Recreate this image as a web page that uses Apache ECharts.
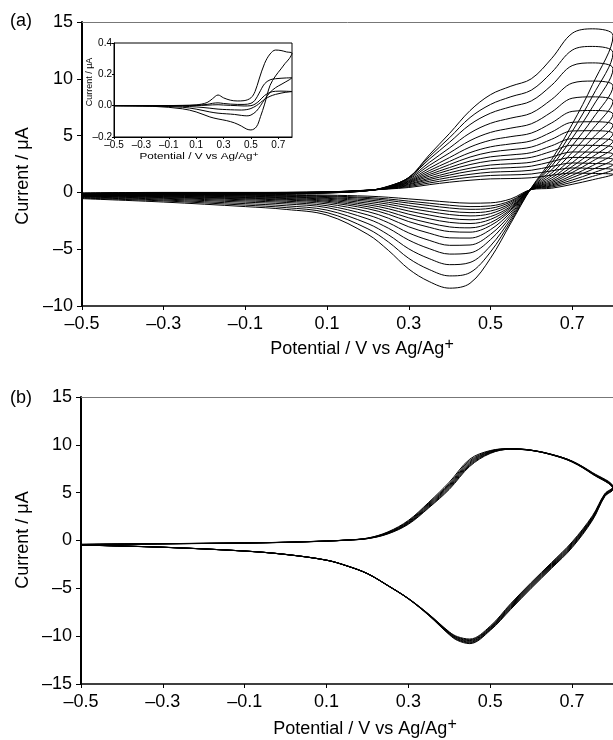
<!DOCTYPE html>
<html><head><meta charset="utf-8">
<script src="https://cdn.jsdelivr.net/npm/echarts@6/dist/echarts.min.js"></script>
<style>html,body{margin:0;padding:0;background:#fff}#c{width:613px;height:740px}</style>
</head><body><div id="c"></div>
<script>
// ---------- Panel (a): scan-rate series, potential loop (forward then reverse) ----------
const potentialA = [-0.5,-0.3,-0.1,0.1,0.2,0.25,0.3,0.35,0.4,0.45,0.5,0.55,0.6,0.65,0.7,0.75,0.8,
                    0.75,0.7,0.65,0.6,0.55,0.5,0.45,0.4,0.35,0.3,0.25,0.2,0.1,0,-0.1,-0.3,-0.5];
const scanA01 = [-0.35,-0.2,-0.15,-0.05,0.15,0.55,1.3,3.3,5.2,7.2,8.6,9.35,10.0,11.8,14.0,14.4,13.8, 9.5,6.0,2.9,0.4,-2.7,-5.8,-8.0,-8.43,-7.85,-6.75,-5.1,-3.7,-2.0,-1.5,-1.25,-0.85,-0.55];
const scanA02 = [-0.33,-0.19,-0.14,-0.04,0.15,0.53,1.31,3.13,4.82,6.59,7.74,8.42,9.0,10.57,12.52,12.85,12.29, 8.48,5.36,2.61,0.39,-2.52,-5.25,-7.06,-7.35,-6.79,-5.81,-4.36,-3.21,-1.78,-1.34,-1.12,-0.75,-0.5];
const scanA03 = [-0.31,-0.17,-0.13,-0.04,0.16,0.51,1.3,2.92,4.42,5.97,6.97,7.54,8.05,9.44,11.16,11.4,10.89, 7.53,4.77,2.32,0.38,-2.32,-4.71,-6.17,-6.36,-5.83,-4.97,-3.73,-2.75,-1.56,-1.18,-0.99,-0.67,-0.45];
const scanA04 = [-0.29,-0.16,-0.12,-0.03,0.16,0.5,1.23,2.63,3.92,5.23,6.08,6.54,6.98,8.19,9.62,9.8,9.37, 6.48,4.1,1.99,0.37,-2.11,-4.16,-5.33,-5.43,-4.95,-4.2,-3.15,-2.34,-1.34,-1.02,-0.86,-0.59,-0.4];
const scanA05 = [-0.26,-0.14,-0.11,-0.02,0.16,0.48,1.16,2.37,3.48,4.56,5.28,5.66,6.04,7.08,8.29,8.41,8.02, 5.57,3.52,1.71,0.36,-1.92,-3.7,-4.63,-4.66,-4.22,-3.57,-2.67,-1.99,-1.17,-0.89,-0.75,-0.52,-0.36];
const scanA06 = [-0.24,-0.13,-0.1,-0.01,0.17,0.46,1.07,2.12,3.07,3.99,4.59,4.91,5.22,6.12,7.13,7.21,6.88, 4.78,3.03,1.47,0.35,-1.74,-3.28,-4.02,-4.0,-3.59,-3.03,-2.27,-1.69,-1.01,-0.78,-0.65,-0.46,-0.32];
const scanA07 = [-0.22,-0.11,-0.09,-0.01,0.17,0.44,1.0,1.91,2.73,3.5,4.01,4.27,4.54,5.32,6.17,6.22,5.93, 4.13,2.61,1.27,0.34,-1.58,-2.92,-3.5,-3.45,-3.07,-2.57,-1.93,-1.44,-0.88,-0.68,-0.57,-0.41,-0.29];
const scanA08 = [-0.2,-0.1,-0.08,0,0.18,0.43,0.94,1.73,2.45,3.11,3.55,3.76,3.99,4.68,5.41,5.43,5.17, 3.6,2.28,1.1,0.33,-1.47,-2.66,-3.12,-3.04,-2.69,-2.24,-1.68,-1.26,-0.78,-0.61,-0.51,-0.37,-0.26];
const scanA09 = [-0.18,-0.09,-0.06,0.01,0.18,0.41,0.87,1.57,2.19,2.76,3.13,3.3,3.5,4.11,4.73,4.73,4.51, 3.14,1.99,0.96,0.31,-1.34,-2.38,-2.74,-2.64,-2.32,-1.92,-1.44,-1.09,-0.69,-0.54,-0.45,-0.33,-0.24];
const scanA10 = [-0.16,-0.07,-0.05,0.01,0.18,0.39,0.81,1.42,1.97,2.45,2.78,2.91,3.09,3.62,4.15,4.14,3.94, 2.75,1.75,0.85,0.3,-1.23,-2.13,-2.41,-2.29,-1.99,-1.64,-1.23,-0.94,-0.6,-0.47,-0.4,-0.29,-0.22];
const scanA11 = [-0.14,-0.06,-0.04,0.02,0.19,0.37,0.73,1.26,1.73,2.13,2.41,2.52,2.66,3.12,3.56,3.54,3.37, 2.36,1.5,0.74,0.29,-1.09,-1.87,-2.07,-1.95,-1.68,-1.38,-1.04,-0.79,-0.52,-0.41,-0.34,-0.25,-0.19];
const scanA12 = [-0.11,-0.04,-0.03,0.03,0.19,0.35,0.67,1.13,1.53,1.87,2.1,2.18,2.31,2.71,3.08,3.05,2.9, 2.03,1.3,0.64,0.28,-0.97,-1.64,-1.78,-1.66,-1.42,-1.16,-0.87,-0.66,-0.45,-0.35,-0.3,-0.22,-0.17];
const scanA13 = [-0.09,-0.03,-0.02,0.04,0.19,0.34,0.59,0.98,1.32,1.59,1.78,1.84,1.95,2.29,2.59,2.55,2.43, 1.7,1.09,0.56,0.27,-0.84,-1.4,-1.49,-1.37,-1.16,-0.94,-0.71,-0.54,-0.37,-0.3,-0.25,-0.19,-0.14];
const scanA14 = [-0.07,-0.01,-0.01,0.04,0.2,0.32,0.51,0.83,1.11,1.34,1.49,1.54,1.62,1.9,2.15,2.11,2.0, 1.41,0.9,0.47,0.26,-0.73,-1.19,-1.25,-1.13,-0.95,-0.77,-0.58,-0.45,-0.31,-0.25,-0.21,-0.16,-0.12];
const scanA15 = [-0.05,0,0,0.05,0.2,0.3,0.43,0.68,0.9,1.07,1.19,1.22,1.29,1.51,1.7,1.67,1.58, 1.11,0.71,0.37,0.25,-0.57,-0.92,-0.95,-0.86,-0.71,-0.57,-0.43,-0.33,-0.24,-0.19,-0.16,-0.12,-0.1];
const scansA = [scanA01,scanA02,scanA03,scanA04,scanA05,scanA06,scanA07,scanA08,scanA09,scanA10,scanA11,scanA12,scanA13,scanA14,scanA15];

// ---------- Inset of panel (a) ----------
const potentialInset = [-0.5,-0.2,0,0.1,0.18,0.22,0.26,0.3,0.35,0.4,0.45,0.5,0.53,0.56,0.6,0.64,0.68,0.72,0.76,0.8,
                        0.78,0.75,0.72,0.68,0.64,0.6,0.57,0.54,0.5,0.47,0.43,0.38,0.32,0.26,0.2,0.1,0,-0.2,-0.5];
const insetCV1 = [0,0,0.002,0.005,0.02,0.045,0.068,0.05,0.035,0.03,0.032,0.05,0.09,0.17,0.27,0.33,0.355,0.352,0.343,0.335,
                  0.30,0.27,0.235,0.19,0.13,0.01,-0.07,-0.135,-0.155,-0.15,-0.13,-0.11,-0.095,-0.085,-0.072,-0.04,-0.02,-0.005,0];
const insetCV2 = [0,0,0.001,0.003,0.008,0.015,0.018,0.014,0.01,0.008,0.008,0.015,0.035,0.08,0.14,0.165,0.172,0.175,0.177,0.178,
                  0.165,0.15,0.135,0.115,0.085,0.04,0.0,-0.035,-0.06,-0.065,-0.062,-0.056,-0.052,-0.048,-0.04,-0.022,-0.01,-0.003,0];
const insetCV3 = [0,0,0,0.001,0.003,0.005,0.006,0.004,0.002,0,-0.002,0,0.01,0.03,0.065,0.085,0.092,0.093,0.092,0.09,
                  0.088,0.085,0.08,0.072,0.06,0.04,0.02,0.0,-0.018,-0.025,-0.028,-0.027,-0.025,-0.022,-0.016,-0.008,-0.004,-0.001,0];
const insetCVs = [insetCV1, insetCV2, insetCV3];

// ---------- Panel (b): repeated cycles ----------
const potentialB = [-0.5,-0.3,-0.1,0,0.1,0.15,0.2,0.25,0.3,0.35,0.4,0.45,0.5,0.55,0.6,0.65,0.7,0.75,0.8,
                    0.78,0.75,0.7,0.65,0.6,0.55,0.5,0.45,0.42,0.4,0.35,0.3,0.25,0.2,0.15,0.1,0,-0.1,-0.3,-0.5];
const cycleB1 = [-0.4,-0.33,-0.25,-0.18,-0.05,0.05,0.25,0.9,2.1,4.0,6.1,8.5,9.4,9.6,9.45,9.0,8.3,7.1,5.6,
                 4.9,2.6,-0.15,-2.3,-4.4,-6.6,-8.95,-10.3,-10.05,-9.55,-7.7,-6.05,-4.7,-3.45,-2.65,-2.05,-1.45,-1.1,-0.7,-0.47];
const cycleB2 = [-0.41,-0.33,-0.25,-0.18,-0.05,0.05,0.24,0.86,2.02,3.9,5.95,8.35,9.35,9.6,9.45,9.0,8.3,7.05,5.55,
                 4.85,2.5,-0.25,-2.4,-4.5,-6.7,-9.05,-10.38,-10.12,-9.6,-7.72,-6.06,-4.7,-3.45,-2.65,-2.05,-1.45,-1.1,-0.7,-0.47];
const cycleB3 = [-0.41,-0.34,-0.26,-0.18,-0.05,0.05,0.23,0.82,1.95,3.8,5.82,8.22,9.3,9.58,9.44,9.0,8.28,7.02,5.5,
                 4.8,2.42,-0.35,-2.5,-4.6,-6.8,-9.12,-10.46,-10.18,-9.65,-7.75,-6.07,-4.71,-3.46,-2.65,-2.05,-1.45,-1.1,-0.7,-0.47];
const cycleB4 = [-0.42,-0.34,-0.26,-0.19,-0.06,0.04,0.22,0.78,1.88,3.7,5.7,8.1,9.25,9.57,9.43,8.98,8.26,7.0,5.46,
                 4.75,2.35,-0.45,-2.6,-4.7,-6.9,-9.2,-10.54,-10.25,-9.7,-7.78,-6.08,-4.72,-3.47,-2.66,-2.06,-1.46,-1.1,-0.7,-0.48];
const cycleB5 = [-0.42,-0.34,-0.26,-0.19,-0.06,0.04,0.21,0.75,1.82,3.6,5.58,7.98,9.2,9.56,9.42,8.97,8.24,6.98,5.42,
                 4.7,2.28,-0.55,-2.7,-4.8,-7.0,-9.27,-10.62,-10.32,-9.75,-7.8,-6.09,-4.72,-3.47,-2.66,-2.06,-1.46,-1.1,-0.71,-0.48];
const cycleB6 = [-0.43,-0.35,-0.27,-0.19,-0.06,0.04,0.2,0.72,1.76,3.5,5.46,7.86,9.15,9.55,9.42,8.96,8.22,6.95,5.38,
                 4.65,2.2,-0.65,-2.8,-4.9,-7.1,-9.33,-10.7,-10.38,-9.8,-7.82,-6.1,-4.73,-3.48,-2.67,-2.06,-1.46,-1.11,-0.71,-0.48];
const cycleB7 = [-0.43,-0.35,-0.27,-0.2,-0.07,0.03,0.19,0.69,1.7,3.42,5.35,7.75,9.1,9.54,9.41,8.95,8.2,6.92,5.35,
                 4.6,2.12,-0.75,-2.9,-5.0,-7.2,-9.4,-10.78,-10.45,-9.85,-7.85,-6.11,-4.74,-3.48,-2.67,-2.07,-1.47,-1.11,-0.71,-0.48];
const cyclesB = [cycleB1,cycleB2,cycleB3,cycleB4,cycleB5,cycleB6,cycleB7];

// ---------- Axis ticks ----------
const potentialTicks = {min: -0.5, max: 0.8, interval: 0.2};
const currentTicksA = {min: -10, max: 15, interval: 5};
const currentTicksB = {min: -15, max: 15, interval: 5};
const currentTicksInset = {min: -0.2, max: 0.4, interval: 0.2};

const xTitle = 'Potential / V vs Ag/Ag';
const yTitle = 'Current / μA';

// ---------- build ----------
const FONT = '"Liberation Sans", Arial, Helvetica, sans-serif';
function fmt(dec){ return v => { const a = Math.abs(v) < 1e-9 ? 0 : v; return (a < 0 ? '\u2013' : '') + Math.abs(a).toFixed(dec); }; }

function bottomX(grid, size, margin, tickLen, lw, z){
  return {gridIndex: grid, type:'value', position:'bottom', min: potentialTicks.min, max: potentialTicks.max, interval: potentialTicks.interval, z: z||0,
    axisLine:{show:true, onZero:false, lineStyle:{color:'#000', width:lw}},
    axisTick:{show:true, length:tickLen, lineStyle:{color:'#000', width:1}},
    axisLabel:{show:true, margin:margin, fontSize:size, color:'#000', fontFamily:FONT, formatter:fmt(1), showMaxLabel:false},
    splitLine:{show:false}};
}
function topX(grid){
  return {gridIndex: grid, type:'value', position:'top', min: potentialTicks.min, max: potentialTicks.max,
    axisLine:{show:true, onZero:false, lineStyle:{color:'#777', width:1}},
    axisTick:{show:false}, axisLabel:{show:false}, splitLine:{show:false}};
}
function leftY(grid, t, dec, size, margin, tickLen, lw, z){
  return {gridIndex: grid, type:'value', position:'left', min:t.min, max:t.max, interval:t.interval, z: z||0,
    axisLine:{show:true, onZero:false, lineStyle:{color:'#000', width:lw}},
    axisTick:{show:true, length:tickLen, lineStyle:{color:'#000', width:1}},
    axisLabel:{show:true, margin:margin, fontSize:size, color:'#000', fontFamily:FONT, formatter:fmt(dec)},
    splitLine:{show:false}};
}

const series = [];
scansA.forEach(cur => series.push({type:'line', xAxisIndex:0, yAxisIndex:0, data: potentialA.map((p,i)=>[p,cur[i]]),
  smooth:0.35, showSymbol:false, lineStyle:{color:'#000', width:1}, silent:true}));
cyclesB.forEach(cur => series.push({type:'line', xAxisIndex:2, yAxisIndex:1, data: potentialB.map((p,i)=>[p,cur[i]]),
  smooth:0.35, showSymbol:false, lineStyle:{color:'#000', width:1}, silent:true}));
insetCVs.forEach(cur => series.push({type:'line', xAxisIndex:4, yAxisIndex:2, z:7, data: potentialInset.map((p,i)=>[p,cur[i]]),
  smooth:0.35, showSymbol:false, lineStyle:{color:'#000', width:1}, silent:true}));

function titleText(x, y, size, rot, sx){
  const sup = Math.round(size*0.9);
  return {type:'text', x:x, y:y, rotation: rot||0, scaleX: sx||1, z:10,
    style:{text:'{n|' + xTitle + '}{s|+}', align:'center', verticalAlign:'middle', fill:'#000', font: size+'px '+FONT,
      rich:{n:{fontSize:size, fontFamily:FONT, lineHeight:Math.round(size*1.4), fill:'#000'},
            s:{fontSize:sup, fontFamily:FONT, lineHeight:sup, verticalAlign:'top', fill:'#000'}}}};
}
function yText(x, y, size){
  return {type:'text', x:x, y:y, rotation: Math.PI/2, z:10,
    style:{text:yTitle, align:'center', verticalAlign:'middle', fill:'#000', font: size+'px '+FONT}};
}

const option = {
  animation:false, backgroundColor:'#fff',
  grid:[
    {left:82, top:22, width:541, height:284},
    {left:81, top:397, width:539, height:287},
    {left:114, top:43, width:178, height:94, show:true, backgroundColor:'#fff', borderColor:'#000', borderWidth:1, z:5}
  ],
  xAxis:[
    bottomX(0, 18, 9, 4, 1.5),
    topX(0),
    bottomX(1, 18, 9, 4, 1.5),
    topX(1),
    bottomX(2, 10, 3, 2, 1, 6)
  ],
  yAxis:[
    leftY(0, currentTicksA, 0, 18, 9, 5, 2),
    leftY(1, currentTicksB, 0, 18, 9, 5, 2),
    leftY(2, currentTicksInset, 1, 10, 2, 2, 1, 6)
  ],
  series: series,
  graphic:[
    {type:'text', x:10, y:21, z:10, style:{text:'(a)', fill:'#000', font:'18px '+FONT, align:'left', verticalAlign:'middle'}},
    {type:'text', x:10, y:398, z:10, style:{text:'(b)', fill:'#000', font:'18px '+FONT, align:'left', verticalAlign:'middle'}},
    titleText(362, 349, 18),
    titleText(365, 729, 18),
    titleText(199, 157, 9, 0, 1.3),
    yText(23, 176, 18),
    yText(23, 540, 18),
    yText(90, 82, 9)
  ]
};
const chart = echarts.init(document.getElementById('c'), null, {renderer:'canvas'});
chart.setOption(option);
</script></body></html>
